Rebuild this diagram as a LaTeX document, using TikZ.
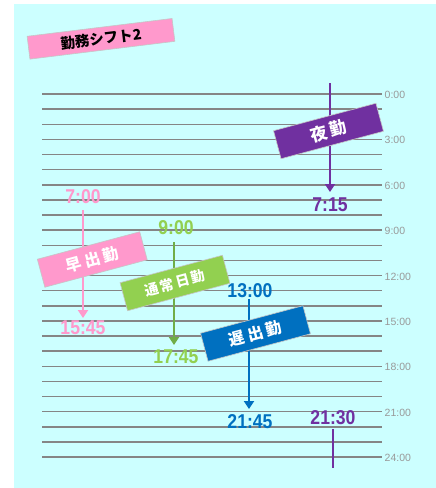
\documentclass[tikz,border=0pt]{standalone}
\usepackage{fontspec}
\setmainfont{Liberation Sans}
\newfontfamily\jp{Noto Sans CJK JP}
\usetikzlibrary{arrows.meta}
\definecolor{bgc}{HTML}{CCFFFF}
\definecolor{pinkc}{HTML}{FF99CC}
\definecolor{greenc}{HTML}{92D050}
\definecolor{greenar}{HTML}{70AD47}
\definecolor{bluec}{HTML}{0070C0}
\definecolor{purpc}{HTML}{7030A0}
\definecolor{linec}{HTML}{858585}
\definecolor{labc}{HTML}{999999}
\tikzset{
  hline/.style={draw=linec, line width=1.5pt},
  hlab/.style={anchor=west, text=labc, inner sep=0pt, font=\fontsize{10.5}{10.5}\selectfont},
  tlab/.style={inner sep=0pt, font=\fontsize{20}{20}\selectfont\bfseries},
  shiftbox/.style={rotate=15, minimum width=106pt, minimum height=29pt, inner sep=0pt,
     draw=gray!45, line width=0.6pt, text=white, font=\jp\bfseries\fontsize{16}{16}\selectfont},
  tarrow/.style={line width=2pt, -{Triangle[width=10pt,length=8pt]}},
  tline/.style={line width=2pt}
}
\newcommand{\tnum}[1]{\scalebox{0.88}[1]{#1}}
\begin{document}
\begin{tikzpicture}[x=1pt,y=-1pt]
\useasboundingbox (0,0) rectangle (436,488);
\fill[bgc] (14,4) rectangle (436,488);
% hour lines
\foreach \i in {0,...,24}{
  \coordinate (hl\i) at (42,{94+15.125*\i});
  \coordinate (hr\i) at (382,{94+15.125*\i});
  \draw[hline] (hl\i) -- (hr\i);
}
\foreach \h in {0,3,...,24}{
  \node[hlab] (lab\h) at (384.5,{95+15.125*\h}) {\h:00};
}
% title
\node[rotate=7, fill=pinkc, draw=gray!45, line width=0.6pt, minimum width=146pt, minimum height=23pt, inner sep=0pt,
  font=\jp\bfseries\fontsize{14.5}{14.5}\selectfont] (title) at (101,38.8) {勤務シフト2};
% purple night shift
\coordinate (ns) at (330,83);
\coordinate (ne) at (330,192);
\draw[tarrow, purpc] (ns) -- (ne);
\node[tlab, text=purpc] (t715) at (330,205) {\tnum{7:15}};
\node[tlab, text=purpc] (t2130) at (333,418) {\tnum{21:30}};
\coordinate (n2s) at (333,429);
\coordinate (n2e) at (333,468);
\draw[tline, purpc] (n2s) -- (n2e);
% pink early shift
\node[tlab, text=pinkc] (t700) at (83,197) {\tnum{7:00}};
\node[tlab, text=pinkc] (t1545) at (83,328) {\tnum{15:45}};
\coordinate (ps) at (83,210);
\coordinate (pe) at (83,318);
\draw[tarrow, pinkc] (ps) -- (pe);
% green day shift
\node[tlab, text=greenc] (t900) at (176,228) {\tnum{9:00}};
\node[tlab, text=greenc] (t1745) at (176,357) {\tnum{17:45}};
\coordinate (gs) at (174,242);
\coordinate (ge) at (174,345);
\draw[tarrow, greenar] (gs) -- (ge);
% blue late shift
\node[tlab, text=bluec] (t1300) at (250,291) {\tnum{13:00}};
\node[tlab, text=bluec] (t2145) at (250,422) {\tnum{21:45}};
\coordinate (bs) at (249,299);
\coordinate (be) at (249,409);
\draw[tarrow, bluec] (bs) -- (be);
% boxes
\node[shiftbox, fill=purpc, font=\jp\bfseries\fontsize{17}{17}\selectfont] (yakin) at (328.5,131) {夜\hspace{3pt}勤};
\node[shiftbox, fill=pinkc] (hayade) at (92.3,259.5) {早\hspace{3pt}出\hspace{3pt}勤};
\node[shiftbox, fill=greenc, font=\jp\bfseries\fontsize{14}{14}\selectfont] (nikkin) at (175,283) {通\hspace{2pt}常\hspace{2pt}日\hspace{2pt}勤};
\node[shiftbox, fill=bluec] (osode) at (255.5,333.5) {遅\hspace{3pt}出\hspace{3pt}勤};
\end{tikzpicture}
\end{document}
